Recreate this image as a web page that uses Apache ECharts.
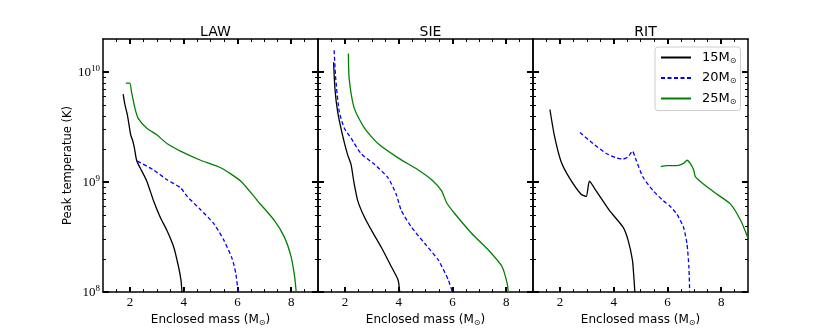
<!DOCTYPE html>
<html><head><meta charset="utf-8">
<script src="https://cdn.jsdelivr.net/npm/echarts@6/dist/echarts.min.js"></script>
<style>html,body{margin:0;padding:0;background:#fff}#c{width:830px;height:332px}</style>
</head><body><div id="c"></div>
<script>
const panels = ['LAW', 'SIE', 'RIT'];
const masses = ['15', '20', '25'];

// LAW
const law15x = [1.75, 1.82, 1.9, 1.97, 2.03, 2.1, 2.16, 2.25, 2.38, 2.63, 2.88, 3.13, 3.38, 3.63, 3.81, 3.9, 3.94];
const law15T = [6.31e9, 5.0e9, 4.17e9, 3.3e9, 2.69e9, 2.4e9, 2.09e9, 1.58e9, 1.35e9, 1.02e9, 6.76e8, 4.79e8, 3.63e8, 2.57e8, 1.70e8, 1.29e8, 1.0e8];
const law20x = [2.28, 2.88, 3.38, 3.88, 4.13, 4.63, 5.13, 5.5, 5.81, 5.94, 6.03];
const law20T = [1.55e9, 1.29e9, 1.05e9, 8.91e8, 7.41e8, 5.62e8, 4.17e8, 2.95e8, 2.0e8, 1.48e8, 1.0e8];
const law25x = [1.85, 2.0, 2.06, 2.19, 2.31, 2.63, 3.0, 3.38, 3.88, 4.63, 5.38, 6.13, 6.75, 7.38, 7.75, 8.0, 8.13, 8.19];
const law25T = [7.94e9, 7.94e9, 6.61e9, 4.68e9, 3.80e9, 3.09e9, 2.69e9, 2.24e9, 1.91e9, 1.58e9, 1.35e9, 1.02e9, 6.76e8, 4.47e8, 3.16e8, 2.09e8, 1.38e8, 1.0e8];
// SIE
const sie15x = [1.58, 1.63, 1.73, 1.91, 2.1, 2.23, 2.33, 2.48, 2.73, 3.04, 3.35, 3.73, 3.98, 4.04];
const sie15T = [1.23e10, 7.08e9, 4.37e9, 2.69e9, 1.78e9, 1.45e9, 1.02e9, 6.76e8, 4.79e8, 3.47e8, 2.57e8, 1.70e8, 1.29e8, 1.0e8];
const sie20x = [1.6, 1.66, 1.79, 1.98, 2.23, 2.6, 3.1, 3.6, 3.91, 4.1, 4.48, 4.98, 5.48, 5.85, 6.0];
const sie20T = [1.58e10, 8.71e9, 4.37e9, 3.09e9, 2.51e9, 1.82e9, 1.45e9, 1.10e9, 7.76e8, 5.50e8, 3.89e8, 2.75e8, 1.95e8, 1.29e8, 1.0e8];
const sie25x = [2.13, 2.16, 2.35, 2.73, 3.23, 3.98, 4.73, 5.23, 5.6, 5.79, 6.1, 6.73, 7.35, 7.85, 8.04, 8.08];
const sie25T = [1.48e10, 8.71e9, 4.68e9, 3.09e9, 2.24e9, 1.66e9, 1.29e9, 1.05e9, 8.32e8, 6.46e8, 5.13e8, 3.39e8, 2.40e8, 1.70e8, 1.20e8, 1.0e8];
// RIT
const rit15x = [1.63, 1.79, 2.04, 2.35, 2.79, 2.98, 3.1, 3.35, 3.85, 4.35, 4.54, 4.7, 4.76, 4.79];
const rit15T = [4.57e9, 2.69e9, 1.55e9, 1.10e9, 7.76e8, 7.41e8, 1.02e9, 8.32e8, 5.50e8, 3.89e8, 2.95e8, 1.95e8, 1.29e8, 1.0e8];
const rit20x = [2.75, 3.23, 3.73, 4.1, 4.35, 4.54, 4.7, 4.85, 5.1, 5.48, 5.85, 6.1, 6.35, 6.6, 6.73, 6.8, 6.83];
const rit20T = [2.82e9, 2.24e9, 1.82e9, 1.66e9, 1.62e9, 1.70e9, 1.91e9, 1.55e9, 1.10e9, 8.32e8, 6.76e8, 6.03e8, 5.13e8, 3.89e8, 2.75e8, 1.70e8, 1.0e8];
const rit25x = [5.75, 5.98, 6.35, 6.6, 6.73, 6.85, 6.98, 7.04, 7.35, 7.85, 8.35, 8.73, 9.0];
const rit25T = [1.38e9, 1.41e9, 1.41e9, 1.48e9, 1.58e9, 1.48e9, 1.29e9, 1.12e9, 9.55e8, 7.76e8, 6.31e8, 4.47e8, 3.09e8];

const yMajorTicks = [1e8, 1e9, 1e10];
const yMinorTicks = [2e8, 3e8, 4e8, 5e8, 6e8, 7e8, 8e8, 9e8, 2e9, 3e9, 4e9, 5e9, 6e9, 7e9, 8e9, 9e9];
const xMajorTicks = [2, 4, 6, 8];
const xMinorTicks = [1.5, 2.5, 3, 3.5, 4.5, 5, 5.5, 6.5, 7, 7.5, 8.5];

const seriesData = {
  LAW: [[law15x, law15T], [law20x, law20T], [law25x, law25T]],
  SIE: [[sie15x, sie15T], [sie20x, sie20T], [sie25x, sie25T]],
  RIT: [[rit15x, rit15T], [rit20x, rit20T], [rit25x, rit25T]]
};
const colors = ['#000000', '#0000ff', '#008000'];
const dashes = ['solid', [4, 2.5], 'solid'];

const GL = 103, GW = 215, GT = 39, GH = 256;
const serif = 'Liberation Serif';
const sans = 'DejaVu Sans';

const grids = [], xAxes = [], yAxes = [], series = [], titles = [];
panels.forEach((p, g) => {
  grids.push({ left: GL + GW * g, top: GT, width: GW, height: GH, containLabel: false });
  titles.push({ text: p, left: GL + GW * g + GW / 2, top: 20, textAlign: 'center',
    textStyle: { fontFamily: sans, fontSize: 14, fontWeight: 'normal', color: '#000' } });
  const xBase = { type: 'value', gridIndex: g, min: 1, max: 9, splitLine: { show: false } };
  const line = { show: true, onZero: false, lineStyle: { color: '#000', width: 1.5 } };
  xAxes.push(Object.assign({}, xBase, {
    position: 'bottom', axisLine: line,
    axisTick: { inside: true, length: 5, lineStyle: { color: '#000', width: 2 }, customValues: xMajorTicks },
    axisLabel: { customValues: xMajorTicks, margin: 4, fontFamily: serif, fontSize: 13, color: '#000' },
    name: 'Enclosed mass (M{s|⊙})', nameLocation: 'middle', nameGap: 17,
    nameTextStyle: { fontFamily: sans, fontSize: 12, color: '#000', rich: { s: { fontFamily: sans, fontSize: 8, padding: [6, 0, 0, 0], color: '#000' } } }
  }));
  xAxes.push(Object.assign({}, xBase, {
    position: 'bottom', axisLine: { show: false, onZero: false },
    axisTick: { inside: true, length: 3, lineStyle: { color: '#000', width: 1 }, customValues: xMinorTicks },
    axisLabel: { show: false }
  }));
  xAxes.push(Object.assign({}, xBase, {
    position: 'top', axisLine: line,
    axisTick: { inside: true, length: 5, lineStyle: { color: '#000', width: 2 }, customValues: xMajorTicks },
    axisLabel: { show: false }
  }));
  xAxes.push(Object.assign({}, xBase, {
    position: 'top', axisLine: { show: false, onZero: false },
    axisTick: { inside: true, length: 3, lineStyle: { color: '#000', width: 1 }, customValues: xMinorTicks },
    axisLabel: { show: false }
  }));

  const yBase = { type: 'log', logBase: 10, gridIndex: g, min: 1e8, max: 2e10, splitLine: { show: false } };
  const leftMajor = Object.assign({}, yBase, {
    position: 'left', axisLine: line,
    axisTick: { inside: true, length: 6, lineStyle: { color: '#000', width: 2 }, customValues: yMajorTicks },
    axisLabel: g === 0 ? {
      customValues: yMajorTicks, margin: 3, color: '#000',
      formatter: v => '{b|10}{e|' + Math.round(Math.log10(v)) + '}',
      rich: { b: { fontFamily: serif, fontSize: 13, color: '#000' },
              e: { fontFamily: serif, fontSize: 9, color: '#000', padding: [0, 0, 7, 0] } }
    } : { show: false }
  });
  if (g === 0) {
    Object.assign(leftMajor, { name: 'Peak temperatue (K)', nameLocation: 'middle', nameGap: 26,
      nameTextStyle: { fontFamily: sans, fontSize: 11.5, color: '#000' } });
  }
  yAxes.push(leftMajor);
  yAxes.push(Object.assign({}, yBase, {
    position: 'left', axisLine: { show: false },
    axisTick: { inside: true, length: 3, lineStyle: { color: '#000', width: 1 }, customValues: yMinorTicks },
    axisLabel: { show: false }
  }));
  yAxes.push(Object.assign({}, yBase, {
    position: 'right', axisLine: line,
    axisTick: { inside: true, length: 6, lineStyle: { color: '#000', width: 2 }, customValues: yMajorTicks },
    axisLabel: { show: false }
  }));
  yAxes.push(Object.assign({}, yBase, {
    position: 'right', axisLine: { show: false },
    axisTick: { inside: true, length: 3, lineStyle: { color: '#000', width: 1 }, customValues: yMinorTicks },
    axisLabel: { show: false }
  }));

  seriesData[p].forEach((pair, k) => {
    const xs = pair[0], ts = pair[1];
    series.push({
      type: 'line', name: masses[k], xAxisIndex: 4 * g, yAxisIndex: 4 * g,
      data: xs.map((x, i) => [x, ts[i]]),
      showSymbol: false, symbol: 'none', smooth: 0.2, animation: false,
      lineStyle: { color: colors[k], width: 1.3, type: dashes[k] },
      itemStyle: { color: colors[k] }
    });
  });
});

const chart = echarts.init(document.getElementById('c'), null, { renderer: 'canvas' });
chart.setOption({
  animation: false,
  backgroundColor: '#fff',
  title: titles,
  grid: grids,
  xAxis: xAxes,
  yAxis: yAxes,
  legend: {
    data: masses, orient: 'vertical', left: 655, top: 47,
    padding: [4, 4, 5, 5], itemWidth: 30, itemHeight: 14, itemGap: 7,
    borderColor: '#cccccc', borderWidth: 1, borderRadius: 3, backgroundColor: 'rgba(255,255,255,0.8)',
    itemStyle: { opacity: 0 },
    formatter: n => '{a|' + n + 'M}{s|⊙}',
    textStyle: { color: '#000', rich: {
      a: { fontFamily: sans, fontSize: 13, color: '#000', padding: [0, 0, 0, 6] },
      s: { fontFamily: sans, fontSize: 8, color: '#000', padding: [6, 0, 0, 0] } } }
  },
  series: series
});
</script>
</body></html>
